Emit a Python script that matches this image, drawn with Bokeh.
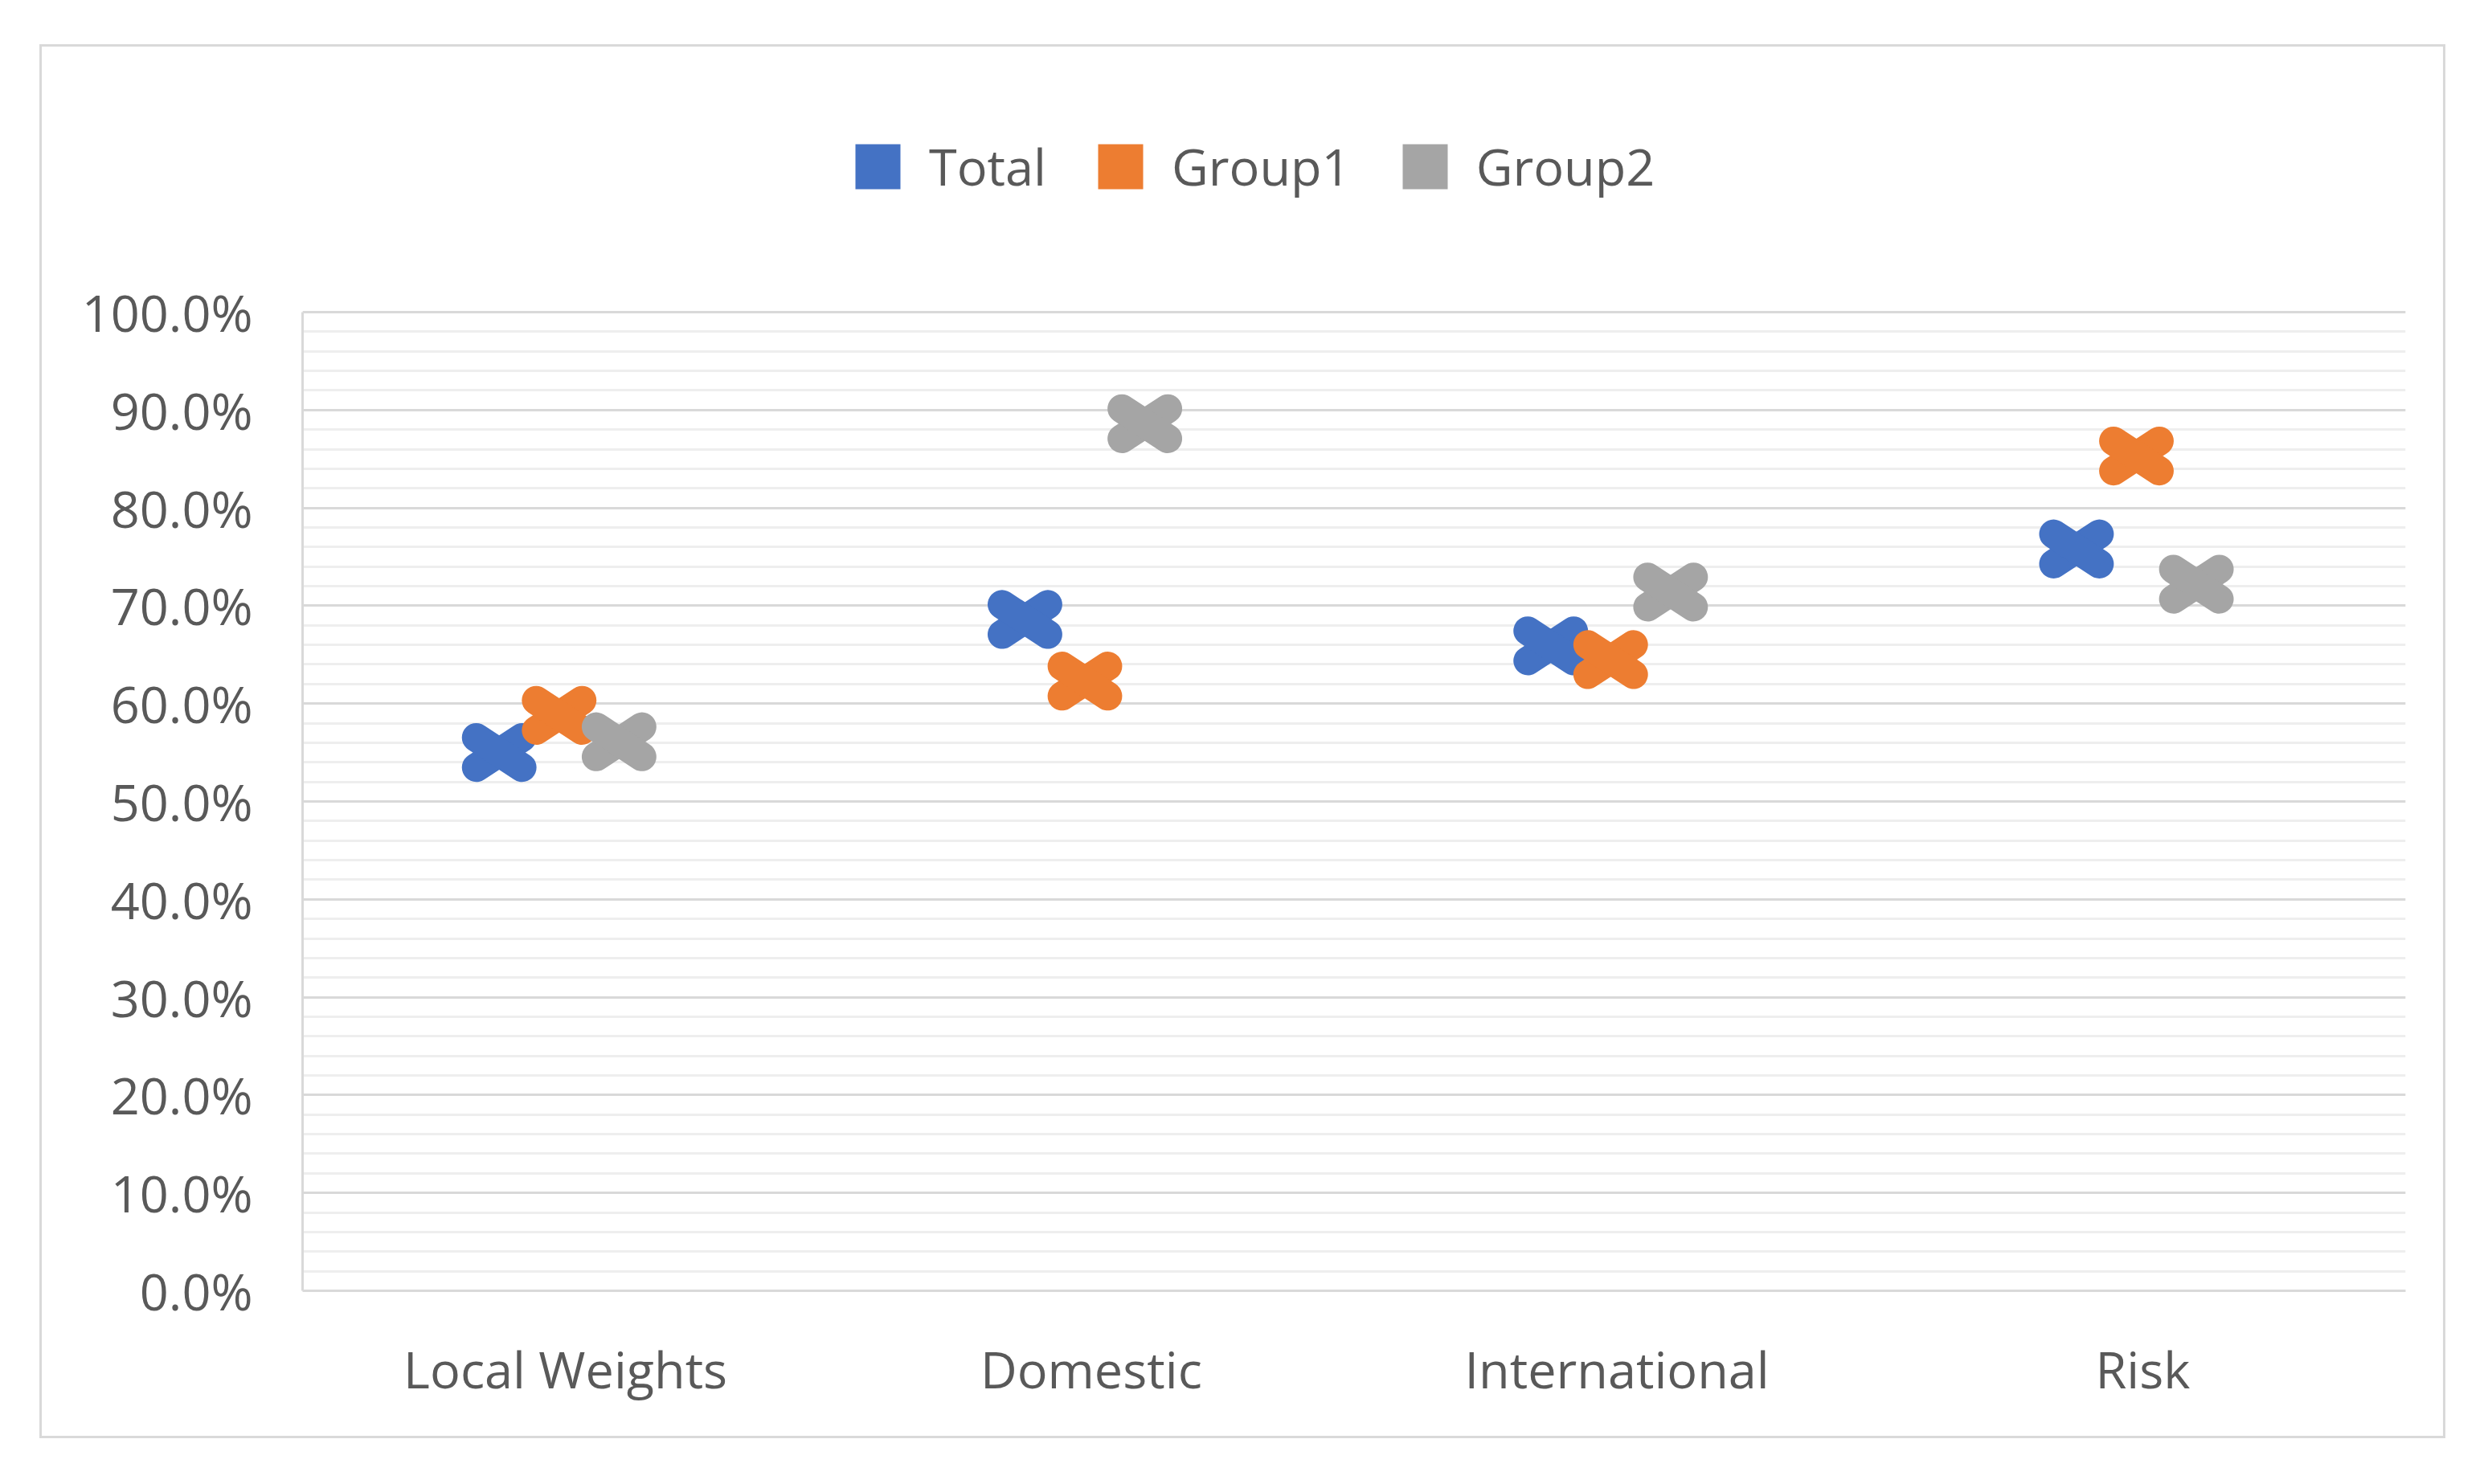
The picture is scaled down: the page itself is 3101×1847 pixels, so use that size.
from bokeh.plotting import figure
from bokeh.models import (FactorRange, Range1d, Legend, LegendItem, NumeralTickFormatter,
                          FixedTicker, ColumnDataSource)
from bokeh.transform import dodge
from bokeh.embed import file_html
from bokeh.resources import INLINE

categories = ["Local Weights", "Domestic", "International", "Risk"]
total = [0.550, 0.686, 0.659, 0.758]
group1 = [0.588, 0.623, 0.645, 0.853]
group2 = [0.561, 0.886, 0.714, 0.722]
series_names = ["Total", "Group1", "Group2"]
series_values = [total, group1, group2]
colors = ["#4472C4", "#ED7D31", "#A5A5A5"]
offsets = [-0.126, -0.012, 0.102]
y_ticks = [i / 10 for i in range(11)]
y_minor = [i / 50 for i in range(51)]

TEXT = "#595959"
FONT = "Open Sans"

# frame extends above 100% to host the legend (grid/axis limited to 0..100%)
p = figure(x_range=FactorRange(factors=categories, range_padding=0),
           y_range=Range1d(0, 1 + 270 / 1218),
           width=2994, height=1735, output_backend="svg", toolbar_location=None,
           min_border_left=324, min_border_right=53, min_border_top=60,
           min_border_bottom=187,
           styles={"border": "3px solid #d9d9d9", "margin-left": "49px",
                   "margin-top": "55px"})
p.outline_line_color = None
p.background_fill_color = "white"
p.border_fill_color = "white"

# grids
p.xgrid.visible = False
p.ygrid.ticker = FixedTicker(ticks=y_ticks, minor_ticks=y_minor)
p.ygrid.bounds = (0, 1)
p.ygrid.grid_line_color = "#d9d9d9"
p.ygrid.grid_line_width = 3
p.ygrid.minor_grid_line_color = "#eeeeee"
p.ygrid.minor_grid_line_width = 3

# y axis
p.yaxis.ticker = FixedTicker(ticks=y_ticks)
p.yaxis.bounds = (0, 1)
p.yaxis.formatter = NumeralTickFormatter(format="0.0%")
p.yaxis.major_tick_line_color = None
p.yaxis.minor_tick_line_color = None
p.yaxis.axis_line_color = "#d9d9d9"
p.yaxis.axis_line_width = 3
p.yaxis.major_label_text_font_size = "63px"
p.yaxis.major_label_text_color = TEXT
p.yaxis.major_label_text_font = FONT
p.yaxis.major_label_standoff = 56

# x axis
p.xaxis.major_tick_line_color = None
p.xaxis.minor_tick_line_color = None
p.xaxis.axis_line_color = "#d9d9d9"
p.xaxis.axis_line_width = 3
p.xaxis.major_label_text_font_size = "63px"
p.xaxis.major_label_text_color = TEXT
p.xaxis.major_label_text_font = FONT
p.xaxis.major_label_standoff = 48

# markers: flattened X built from two rotated round-capped dashes
nan = float("nan")
items = []
for name, vals, c, off in zip(series_names, series_values, colors, offsets):
    src = ColumnDataSource(dict(cat=categories, v=vals))
    for ang in (0.58, -0.58):
        p.scatter(x=dodge("cat", off, range=p.x_range), y="v", marker="dash",
                  size=68, angle=ang, line_color=c, line_width=36, line_cap="round",
                  source=src)
    r = p.quad(left=[nan], right=[nan], top=[nan], bottom=[nan], fill_color=c,
               line_color=None)
    items.append(LegendItem(label=name, renderers=[r]))

legend = Legend(items=items, orientation="horizontal", location=(681, 1357),
                glyph_width=70, glyph_height=70, label_standoff=29, spacing=57,
                padding=0, margin=0, border_line_color=None, background_fill_alpha=0,
                label_text_font_size="63px", label_text_color=TEXT, label_text_font=FONT)
p.add_layout(legend, "center")

open("out.html", "w").write(file_html(p, INLINE))
